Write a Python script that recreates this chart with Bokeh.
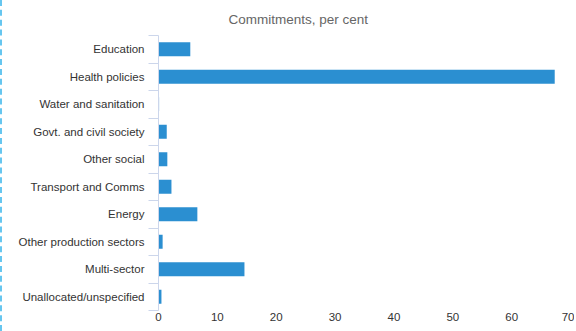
from bokeh.plotting import figure
from bokeh.models import FixedTicker, Range1d, Title
from bokeh.embed import file_html
from bokeh.resources import INLINE

categories = ["Education", "Health policies", "Water and sanitation",
              "Govt. and civil society", "Other social", "Transport and Comms",
              "Energy", "Other production sectors", "Multi-sector",
              "Unallocated/unspecified"]
values = [5.4, 67.3, 0.1, 1.4, 1.5, 2.2, 6.6, 0.7, 14.6, 0.5]
x_ticks = [0, 10, 20, 30, 40, 50, 60, 70]
subtitle = "Commitments, per cent"

n = len(categories)
ypos = [n - 1 - i for i in range(n)]

p = figure(width=574, height=331, output_backend="svg", toolbar_location=None,
           x_range=Range1d(0, 71.0), y_range=Range1d(-0.5, n - 0.5),
           min_border_left=156, min_border_right=0, min_border_top=35,
           min_border_bottom=21)
p.styles = {"border-left": "2px dashed #66c6ef"}
p.title = Title(text=subtitle, align="left", offset=70, text_font="Liberation Sans",
                text_font_size="13.5px", text_color="#666666", text_font_style="normal",
                standoff=18)

p.hbar(y=ypos, right=values, left=0, height=0.51, color="#2b8fd1", line_color=None)

p.xgrid.visible = False
p.ygrid.visible = False
p.outline_line_color = None
p.background_fill_color = "white"
p.border_fill_color = "white"

xa = p.xaxis[0]
xa.ticker = FixedTicker(ticks=x_ticks)
xa.axis_line_color = None
xa.major_tick_line_color = None
xa.major_tick_out = 0
xa.minor_tick_line_color = None
xa.minor_tick_out = 0
xa.major_label_text_font = "Liberation Sans"
xa.major_label_text_font_size = "11.5px"
xa.major_label_text_color = "#333333"
xa.major_label_standoff = 2

ya = p.yaxis[0]
ya.ticker = FixedTicker(ticks=ypos, minor_ticks=[k - 0.5 for k in range(n + 1)])
ya.major_label_overrides = {y: c for y, c in zip(ypos, categories)}
ya.axis_line_color = "#ccd6eb"
ya.major_tick_line_color = None
ya.major_tick_out = 0
ya.minor_tick_line_color = "#ccd6eb"
ya.minor_tick_out = 10
ya.minor_tick_in = 0
ya.major_label_text_font = "Liberation Sans"
ya.major_label_text_font_size = "11.5px"
ya.major_label_text_color = "#333333"
ya.major_label_standoff = 4

open("out.html", "w").write(file_html(p, INLINE))
